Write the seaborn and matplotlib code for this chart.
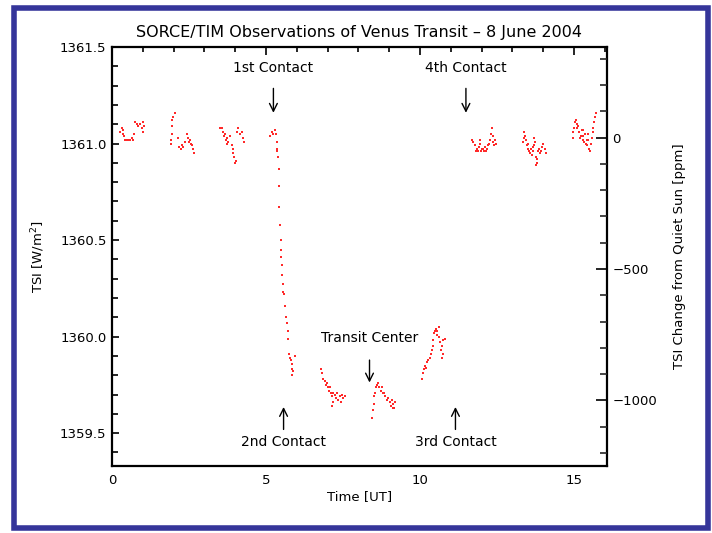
import numpy as np
import pandas as pd
import matplotlib
matplotlib.use("Agg")
import matplotlib.pyplot as plt
import seaborn as sns
from matplotlib.patches import Rectangle
from matplotlib.ticker import MultipleLocator

# ---------------- data ----------------
time_hr = [
    # pre-transit block 1
    0.26, 0.31, 0.37, 0.35, 0.39, 0.42, 0.48, 0.53, 0.58, 0.64, 0.69, 0.71, 0.75, 0.80, 0.85, 0.91, 0.96, 1.00, 1.02, 1.05,
    # block 2
    2.05, 1.99, 1.96, 1.94, 1.94, 1.90, 1.90, 2.15, 2.19, 2.23, 2.26, 2.32, 2.37, 2.42, 2.48, 2.50, 2.53, 2.55, 2.59, 2.64, 2.66,
    # block 3
    3.51, 3.56, 3.59, 3.64, 3.67, 3.70, 3.72, 3.74, 3.78, 3.83, 3.89, 3.92, 3.94, 3.96, 3.99, 4.03, 4.05, 4.10, 4.16, 4.21, 4.26, 4.29,
    # ingress block
    5.13, 5.18, 5.24, 5.29, 5.32, 5.35, 5.37, 5.37, 5.38, 5.42, 5.43, 5.43, 5.45, 5.48, 5.49, 5.49, 5.51, 5.53, 5.54, 5.56,
    5.59, 5.62, 5.64, 5.67, 5.70, 5.72, 5.75, 5.78, 5.94, 5.80, 5.83, 5.85, 5.89, 5.83,
    # in-transit block 1
    6.78, 6.81, 6.86, 6.92, 6.95, 6.97, 7.02, 7.08, 7.06, 7.10, 7.13, 7.17, 7.13, 7.19, 7.24, 7.27, 7.32, 7.35, 7.40, 7.42, 7.46, 7.51, 7.56,
    # in-transit block 2 (transit center)
    8.43, 8.46, 8.49, 8.52, 8.54, 8.57, 8.61, 8.65, 8.68, 8.72, 8.76, 8.79, 8.83, 8.86, 8.92, 8.97, 9.03, 9.05, 9.08, 9.11, 9.13, 9.17, 9.19,
    # egress block
    10.05, 10.09, 10.13, 10.16, 10.19, 10.22, 10.27, 10.32, 10.35, 10.38, 10.41, 10.43, 10.45, 10.49, 10.52, 10.56, 10.60, 10.54,
    10.63, 10.65, 10.67, 10.70, 10.74, 10.70, 10.76, 10.81,
    # post-transit block 1
    11.68, 11.73, 11.79, 11.82, 11.84, 11.89, 11.93, 11.95, 11.95, 11.97, 12.00, 12.06, 12.08, 12.11, 12.14, 12.17, 12.22, 12.25,
    12.27, 12.30, 12.33, 12.36, 12.38, 12.41, 12.44, 12.47,
    # post-transit block 2
    13.33, 13.36, 13.39, 13.41, 13.44, 13.46, 13.50, 13.52, 13.55, 13.57, 13.60, 13.63, 13.66, 13.68, 13.70, 13.70, 13.73, 13.77,
    13.77, 13.79, 13.81, 13.84, 13.87, 13.90, 13.93, 13.95, 14.00, 14.06, 14.09,
    # post-transit block 3
    14.96, 14.98, 15.00, 15.03, 15.06, 15.09, 15.11, 15.14, 15.17, 15.19, 15.22, 15.25, 15.28, 15.30, 15.30, 15.32, 15.36, 15.39,
    15.41, 15.43, 15.46, 15.46, 15.50, 15.52, 15.54, 15.57, 15.61, 15.63, 15.65, 15.68, 15.71,
]
tsi_wm2 = [
    1361.06, 1361.08, 1361.07, 1361.05, 1361.04, 1361.02, 1361.02, 1361.02, 1361.02, 1361.03, 1361.02, 1361.05, 1361.11, 1361.10, 1361.09, 1361.10, 1361.08, 1361.06, 1361.11, 1361.09,
    1361.16, 1361.14, 1361.12, 1361.09, 1361.05, 1361.02, 1361.00, 1361.03, 1360.98, 1360.97, 1360.99, 1360.98, 1361.01, 1361.05, 1361.03, 1361.01, 1361.02, 1361.00, 1360.99, 1360.97, 1360.95,
    1361.08, 1361.08, 1361.06, 1361.04, 1361.05, 1361.02, 1361.03, 1361.00, 1361.01, 1361.04, 1360.99, 1360.97, 1360.95, 1360.93, 1360.90, 1360.91, 1361.06, 1361.08, 1361.05, 1361.06, 1361.03, 1361.01,
    1361.04, 1361.06, 1361.05, 1361.07, 1361.05, 1361.01, 1360.97, 1360.96, 1360.93, 1360.87, 1360.78, 1360.67, 1360.58, 1360.50, 1360.45, 1360.41, 1360.37, 1360.32, 1360.27, 1360.23,
    1360.22, 1360.16, 1360.10, 1360.07, 1360.03, 1359.99, 1359.91, 1359.89, 1359.90, 1359.88, 1359.86, 1359.83, 1359.82, 1359.80,
    1359.83, 1359.81, 1359.78, 1359.77, 1359.75, 1359.76, 1359.74, 1359.74, 1359.72, 1359.71, 1359.69, 1359.66, 1359.64, 1359.71, 1359.70, 1359.68, 1359.71, 1359.67, 1359.69, 1359.66, 1359.70, 1359.68, 1359.69,
    1359.58, 1359.62, 1359.65, 1359.69, 1359.71, 1359.74, 1359.75, 1359.76, 1359.74, 1359.72, 1359.74, 1359.71, 1359.71, 1359.69, 1359.67, 1359.68, 1359.66, 1359.64, 1359.67, 1359.63, 1359.65, 1359.63, 1359.66,
    1359.78, 1359.81, 1359.83, 1359.85, 1359.84, 1359.87, 1359.88, 1359.89, 1359.91, 1359.93, 1359.95, 1359.98, 1360.02, 1360.03, 1360.04, 1360.03, 1360.05, 1360.01,
    1360.00, 1359.97, 1359.93, 1359.95, 1359.91, 1359.89, 1359.98, 1359.99,
    1361.02, 1361.01, 1360.99, 1360.96, 1360.97, 1360.96, 1360.98, 1361.02, 1361.00, 1360.96, 1360.97, 1360.97, 1360.96, 1360.98, 1360.96, 1360.97, 1360.99, 1361.00,
    1361.02, 1361.05, 1361.08, 1361.04, 1361.01, 1360.99, 1361.02, 1361.00,
    1361.01, 1361.03, 1361.06, 1361.04, 1361.02, 1360.99, 1360.97, 1361.00, 1360.96, 1360.95, 1360.97, 1360.94, 1360.96, 1360.98, 1361.03, 1360.99, 1361.01, 1360.93,
    1360.89, 1360.90, 1360.92, 1360.96, 1360.97, 1360.95, 1360.96, 1360.98, 1361.00, 1360.97, 1360.95,
    1361.03, 1361.06, 1361.08, 1361.11, 1361.12, 1361.10, 1361.08, 1361.09, 1361.06, 1361.03, 1361.04, 1361.07, 1361.02, 1361.07, 1361.04, 1361.01, 1361.05, 1361.00,
    1361.02, 1360.99, 1361.05, 1361.02, 1360.97, 1360.96, 1361.00, 1361.03, 1361.06, 1361.08, 1361.11, 1361.14, 1361.16,
]
quiet_sun_tsi = 1361.031

contact_labels = ["1st Contact", "4th Contact", "Transit Center", "2nd Contact", "3rd Contact"]
contact_times = [5.24, 11.49, 8.36, 5.57, 11.15]

x_ticks = [0, 5, 10, 15]
y_ticks = [1359.5, 1360.0, 1360.5, 1361.0, 1361.5]
ppm_ticks = [-1000, -500, 0]

df = pd.DataFrame({"Time": time_hr, "TSI": tsi_wm2})

# ---------------- figure ----------------
sns.set_theme(style="white")
plt.rcParams["font.family"] = ["DejaVu Sans"]
plt.rcParams["text.color"] = "black"
plt.rcParams["axes.labelcolor"] = "black"

fig = plt.figure(figsize=(7.12, 5.33), dpi=100)
ax = fig.add_axes([112 / 712, 1 - 466 / 533, (607 - 112) / 712, (466 - 47) / 533])

sns.scatterplot(data=df, x="Time", y="TSI", ax=ax, color="#ff2a2a", marker="s",
                s=3.5, linewidth=0, legend=False)

ylo, yhi = 1359.33, 1361.5
ax.set_xlim(0, 16.07)
ax.set_ylim(ylo, yhi)
ax.set_xticks(x_ticks)
ax.set_xticklabels([str(v) for v in x_ticks])
ax.set_yticks(y_ticks)
ax.set_yticklabels([f"{v:.1f}" for v in y_ticks])
ax.xaxis.set_minor_locator(MultipleLocator(1))
ax.yaxis.set_minor_locator(MultipleLocator(0.1))
ax.tick_params(axis="both", which="both", direction="in", top=True, right=False,
               colors="black", labelsize=9.5, width=1.2)
ax.tick_params(axis="x", which="major", length=6, pad=6)
ax.tick_params(axis="x", which="minor", length=3.5)
ax.tick_params(axis="y", which="major", length=5, pad=4)
ax.tick_params(axis="y", which="minor", length=4)
for sp in ax.spines.values():
    sp.set_color("black")
    sp.set_linewidth(1.6)
ax.set_xlabel("Time [UT]", fontsize=9.5, labelpad=2, color="black")
ax.set_ylabel("TSI [W/m$^2$]", fontsize=9.5, labelpad=9, color="black")

# right axis in ppm relative to quiet Sun
ax2 = ax.twinx()
ax2.set_ylim((ylo / quiet_sun_tsi - 1) * 1e6, (yhi / quiet_sun_tsi - 1) * 1e6)
ax2.set_yticks(ppm_ticks)
ax2.set_yticklabels([str(v).replace("-", "\u2212") for v in ppm_ticks])
ax2.yaxis.set_minor_locator(MultipleLocator(100))
ax2.tick_params(axis="y", which="major", direction="in", length=8, width=1.2,
                labelsize=9.5, colors="black", pad=4)
ax2.tick_params(axis="y", which="minor", direction="in", length=5, width=1.2)
ax2.set_ylabel("TSI Change from Quiet Sun [ppm]", fontsize=9.5, labelpad=11, color="black")
for sp in ax2.spines.values():
    sp.set_visible(False)

ax.set_title("SORCE/TIM Observations of Venus Transit \u2013 8 June 2004",
             fontsize=11.5, pad=7, color="black")

# contact annotations
arrow_kw = dict(arrowstyle="->", color="black", lw=1.0, mutation_scale=14)
tops = {"1st Contact": (1361.30, 1361.145, 1361.39),
        "4th Contact": (1361.30, 1361.145, 1361.39),
        "Transit Center": (1359.893, 1359.748, 1359.991),
        "2nd Contact": (1359.505, 1359.65, 1359.455),
        "3rd Contact": (1359.505, 1359.65, 1359.455)}
for lab, t in zip(contact_labels, contact_times):
    tail, tip, ty = tops[lab]
    ax.annotate("", xy=(t, tip), xytext=(t, tail), arrowprops=arrow_kw)
    ax.text(t, ty, lab, ha="center", va="center", fontsize=10, color="black")

# blue frame around the figure
fig.patches.append(Rectangle((14 / 712, 5 / 533), 694 / 712, 520 / 533,
                             transform=fig.transFigure, fill=False,
                             edgecolor="#35359a", linewidth=4))

fig.savefig("out.png", dpi=100, facecolor="white")
